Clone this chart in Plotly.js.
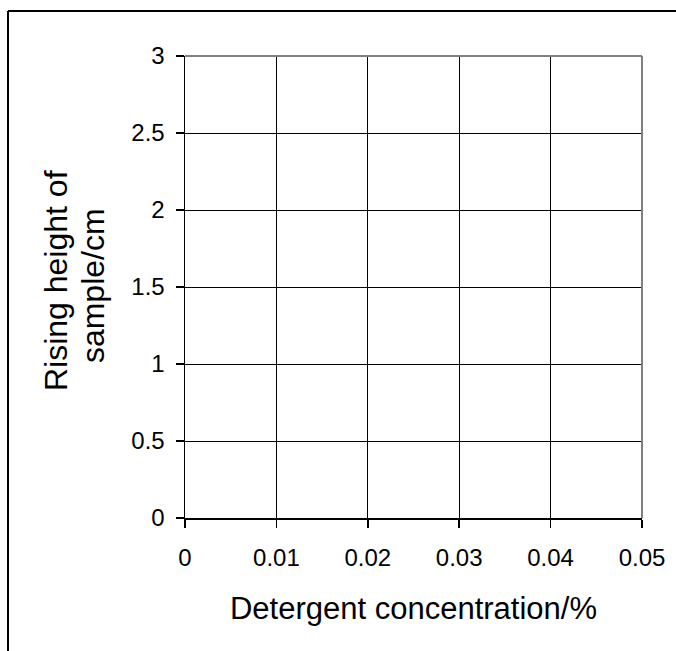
<!DOCTYPE html>
<html>
<head>
<meta charset="utf-8">
<script src="https://cdn.plot.ly/plotly-3.0.1.min.js"></script>
<style>
html,body{margin:0;padding:0;background:#fff;}
#chart{width:676px;height:651px;}
</style>
</head>
<body>
<div id="chart"></div>
<script>
// Tick values (the chart itself contains no plotted data)
var xTickVals = [0, 0.01, 0.02, 0.03, 0.04, 0.05];
var xTickText = ["0", "0.01", "0.02", "0.03", "0.04", "0.05"];
var yTickVals = [0, 0.5, 1, 1.5, 2, 2.5, 3];
var yTickText = ["0", "0.5", "1", "1.5", "2", "2.5", "3"];
var xTitle = "Detergent concentration/%";
var yTitleLines = ["Rising height of", "sample/cm"];
var xRange = [0, 0.05];
var yRange = [0, 3];

var FONT = "Liberation Sans, Arial, sans-serif";

var data = [{
  x: [], y: [], type: "scatter", mode: "markers", showlegend: false
}];

var layout = {
  width: 676, height: 651,
  margin: {l: 185, r: 34, t: 56, b: 133},
  paper_bgcolor: "#ffffff",
  plot_bgcolor: "#ffffff",
  showlegend: false,
  font: {family: FONT, color: "#000"},
  xaxis: {
    range: xRange,
    tickvals: xTickVals, ticktext: xTickText,
    showgrid: true, gridcolor: "#000", gridwidth: 1,
    zeroline: false,
    showline: true, linecolor: "#000", linewidth: 1.5,
    ticks: "outside", ticklen: 8, tickcolor: "#000", tickwidth: 1.5,
    ticklabelstandoff: 10,
    tickfont: {family: FONT, size: 24, color: "#000"},
    title: {text: xTitle, font: {family: FONT, size: 31, color: "#000"}, standoff: 27},
    fixedrange: true
  },
  yaxis: {
    range: yRange,
    tickvals: yTickVals, ticktext: yTickText,
    showgrid: true, gridcolor: "#000", gridwidth: 1,
    zeroline: false,
    showline: true, linecolor: "#000", linewidth: 1.5,
    ticks: "outside", ticklen: 8, tickcolor: "#000", tickwidth: 1.5,
    ticklabelstandoff: 6,
    tickfont: {family: FONT, size: 24, color: "#000"},
    fixedrange: true
  },
  annotations: [
    {text: yTitleLines[0], xref: "paper", yref: "paper", x: -0.2823, y: 0.515,
     xanchor: "center", yanchor: "middle", textangle: -90, showarrow: false,
     font: {family: FONT, size: 32, color: "#000"}},
    {text: yTitleLines[1], xref: "paper", yref: "paper", x: -0.2013, y: 0.502,
     xanchor: "center", yanchor: "middle", textangle: -90, showarrow: false,
     font: {family: FONT, size: 32, color: "#000"}}
  ],
  shapes: [
    // gray top and right frame of plot area
    {type: "line", xref: "paper", yref: "paper", x0: 0, x1: 1, y0: 1, y1: 1,
     line: {color: "#808080", width: 2}, layer: "above"},
    {type: "line", xref: "paper", yref: "paper", x0: 1, x1: 1, y0: 0, y1: 1,
     line: {color: "#808080", width: 2}, layer: "above"},
    // outer chart border (top and left, running off the picture)
    {type: "line", xref: "paper", yref: "paper", x0: -0.3873, x1: 1.2, y0: 1.0974, y1: 1.0974,
     line: {color: "#000", width: 2}, layer: "above"},
    {type: "line", xref: "paper", yref: "paper", x0: -0.3873, x1: -0.3873, y0: 1.0974, y1: -0.4,
     line: {color: "#000", width: 2}, layer: "above"}
  ]
};

Plotly.newPlot("chart", data, layout, {displayModeBar: false, staticPlot: true});
</script>
</body>
</html>
